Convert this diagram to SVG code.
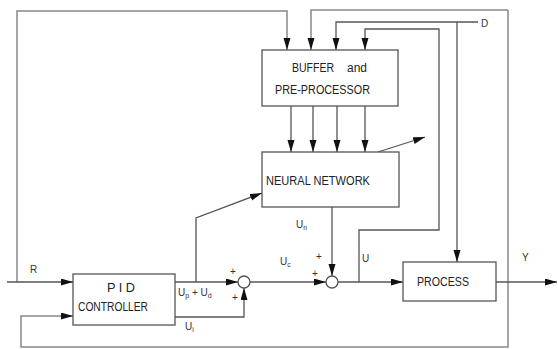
<svg xmlns="http://www.w3.org/2000/svg" width="558" height="349" viewBox="0 0 558 349">
<defs>
<marker id="ah" markerUnits="userSpaceOnUse" markerWidth="13" markerHeight="8" refX="12" refY="3.5" orient="auto">
<path d="M0,0 L12,3.5 L0,7 Z" fill="#111"/>
</marker>
<style>
.box{fill:#fff;stroke:#555;stroke-width:1.3}
.ln{fill:none;stroke:#555;stroke-width:1.3}
.fr{fill:none;stroke:#888;stroke-width:1.5}
.ar{marker-end:url(#ah)}
.t{font-family:"Liberation Sans",Arial,sans-serif;font-size:12px;fill:#222;dominant-baseline:central}
.s{font-family:"Liberation Sans",Arial,sans-serif;font-size:10px;fill:#333}
.sub{font-size:7px}
.c{fill:#fff;stroke:#555;stroke-width:1.3}
</style>
</defs>
<rect width="558" height="349" fill="#fff"/>
<g id="connectors">
<path class="fr ar" d="M17,282 V11 H287 V50"/>
<path class="ln ar" d="M7,282 H73"/>
<path class="fr ar" d="M508,10 H311 V50"/>
<path class="fr ar" d="M508,10 V347 H21 V316 H73"/>
<path class="ln ar" d="M478,22 H336 V50"/>
<path class="ln ar" d="M457,22 V262"/>
<path class="ln ar" d="M359,282 V230 H439 V29 H365 V50"/>
<path class="ln ar" d="M291,105 V152"/>
<path class="ln ar" d="M313,105 V152"/>
<path class="ln ar" d="M337,105 V152"/>
<path class="ln ar" d="M365,105 V152"/>
<path class="ln ar" d="M378,152 L425,137"/>
<path class="ln ar" d="M175,282 H238"/>
<path class="ln ar" d="M196,282 V218 L262,193"/>
<path class="ln ar" d="M175,317 H244 V288"/>
<path class="ln ar" d="M250,282 H326"/>
<path class="ln ar" d="M332,207 V276"/>
<path class="ln ar" d="M338,282 H403"/>
<path class="ln ar" d="M496,282 H557"/>
</g>
<g id="buffer">
<rect class="box" x="262" y="50" width="136" height="56"/>
<text class="t" x="292" y="68" textLength="42" lengthAdjust="spacingAndGlyphs">BUFFER</text>
<text class="t" x="347" y="68" textLength="20" lengthAdjust="spacingAndGlyphs">and</text>
<text class="t" x="275" y="90" textLength="95" lengthAdjust="spacingAndGlyphs">PRE-PROCESSOR</text>
</g>
<g id="neural-network">
<rect class="box" x="262" y="152" width="137" height="55"/>
<text class="t" x="266" y="181" textLength="104" lengthAdjust="spacingAndGlyphs">NEURAL NETWORK</text>
</g>
<g id="pid">
<rect class="box" x="73" y="274" width="102" height="51"/>
<text class="t" x="107" y="288" textLength="28" lengthAdjust="spacingAndGlyphs">P I D</text>
<text class="t" x="78" y="307" textLength="70" lengthAdjust="spacingAndGlyphs">CONTROLLER</text>
</g>
<g id="process">
<rect class="box" x="403" y="262" width="93" height="39"/>
<text class="t" x="417" y="282" textLength="52" lengthAdjust="spacingAndGlyphs">PROCESS</text>
</g>
<g id="sum1">
<circle class="c" cx="244" cy="282" r="6"/>
<text class="s" x="230" y="275">+</text>
<text class="s" x="232" y="301">+</text>
</g>
<g id="sum2">
<circle class="c" cx="332" cy="282" r="6"/>
<text class="s" x="316" y="260">+</text>
<text class="s" x="312" y="277">+</text>
</g>
<g id="labels">
<text class="s" x="30" y="273">R</text>
<text class="s" x="481" y="27">D</text>
<text class="s" x="522" y="261">Y</text>
<text class="s" x="362" y="262">U</text>
<text class="s" x="296" y="228">U<tspan class="sub" dy="2">n</tspan></text>
<text class="s" x="280" y="265">U<tspan class="sub" dy="2">c</tspan></text>
<text class="s" x="178" y="296">U<tspan class="sub" dy="2">p</tspan><tspan dy="-2"> + U</tspan><tspan class="sub" dy="2">d</tspan></text>
<text class="s" x="185" y="330">U<tspan class="sub" dy="2">i</tspan></text>
</g>
</svg>
